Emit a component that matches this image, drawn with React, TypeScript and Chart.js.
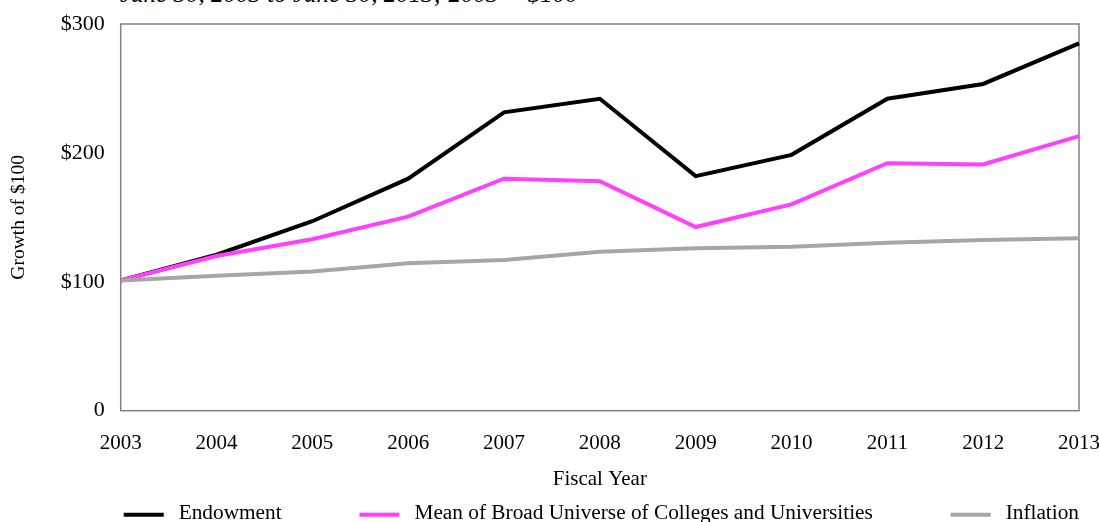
import React, { useEffect, useRef } from 'react';
import { Chart, registerables } from 'chart.js';

Chart.register(...registerables);

const years = ['2003', '2004', '2005', '2006', '2007', '2008', '2009', '2010', '2011', '2012', '2013'];
const endowment = [101, 121, 147, 180, 231.5, 242, 182, 198.5, 242, 253.5, 285];
const broadUniverse = [101, 120, 133, 150.5, 180, 178, 142.5, 160, 192, 191, 213];
const inflation = [101, 104.7, 108, 114.4, 117, 123.4, 126, 127.2, 130.3, 132.4, 133.7];
const seriesLabels = ['Endowment', 'Mean of Broad Universe of Colleges and Universities', 'Inflation'];
const seriesColors = ['#000000', '#ff40ff', '#a6a6a6'];
const titleText = 'June 30, 2003 to June 30, 2013; 2003 = $100';
const yAxisTitle = 'Growth of $100';
const xAxisTitle = 'Fiscal Year';

const FONT = "'Liberation Serif', 'Times New Roman', serif";

const framePlugin = {
  id: 'frame',
  beforeDatasetsDraw(chart: any) {
    const { ctx, chartArea: a } = chart;
    ctx.save();
    ctx.strokeStyle = '#808080';
    ctx.lineWidth = 1.5;
    ctx.strokeRect(a.left, a.top, a.right - a.left, a.bottom - a.top);
    ctx.restore();
  },
};

const spreadLegendPlugin = {
  id: 'spreadLegend',
  afterDraw(chart: any) {
    const { ctx, chartArea: a } = chart;
    const ds = chart.data.datasets;
    ctx.save();
    ctx.font = `21.3px ${FONT}`;
    const sw = 40;
    const gap = 15;
    const widths = ds.map((d: any) => sw + gap + ctx.measureText(d.label).width);
    const total = widths.reduce((s: number, w: number) => s + w, 0);
    const startX = a.left + 3;
    const endX = a.right;
    const spacing = (endX - startX - total) / (ds.length - 1);
    const y = a.bottom + 104;
    let x = startX;
    ds.forEach((d: any, i: number) => {
      ctx.strokeStyle = d.borderColor;
      ctx.lineWidth = 4;
      ctx.beginPath();
      ctx.moveTo(x, y);
      ctx.lineTo(x + sw, y);
      ctx.stroke();
      ctx.fillStyle = '#000';
      ctx.textBaseline = 'middle';
      ctx.textAlign = 'left';
      ctx.fillText(d.label, x + sw + gap, y - 1);
      x += widths[i] + spacing;
    });
    ctx.restore();
  },
};

export default function App() {
  const canvasRef = useRef<HTMLCanvasElement | null>(null);

  useEffect(() => {
    if (!canvasRef.current) return;
    Chart.defaults.font.family = FONT;
    Chart.defaults.font.size = 20;
    Chart.defaults.color = '#000';

    const mk = (label: string, data: number[], color: string, order: number) => ({
      label,
      data,
      borderColor: color,
      backgroundColor: color,
      borderWidth: 4,
      pointRadius: 0,
      pointHoverRadius: 0,
      tension: 0,
      fill: false,
      order,
    });

    const chart = new Chart(canvasRef.current, {
      type: 'line',
      data: {
        labels: years,
        datasets: [
          mk(seriesLabels[0], endowment, seriesColors[0], 3),
          mk(seriesLabels[1], broadUniverse, seriesColors[1], 2),
          mk(seriesLabels[2], inflation, seriesColors[2], 1),
        ],
      },
      options: {
        animation: false,
        responsive: true,
        maintainAspectRatio: false,
        layout: { padding: { left: 7, right: 20, top: 24, bottom: 30 } },
        plugins: {
          legend: { display: false },
          tooltip: { enabled: false },
          title: { display: false },
        },
        scales: {
          x: {
            type: 'category',
            offset: false,
            grid: { display: false, drawTicks: false },
            border: { display: false },
            ticks: { maxRotation: 0, autoSkip: false, padding: 20, font: { size: 21 } },
            title: { display: true, text: xAxisTitle, padding: 0, font: { size: 21 } },
            afterFit: (s: any) => {
              s.height = 81.3;
              s.paddingLeft = 0;
              s.paddingRight = 0;
            },
          },
          y: {
            min: 0,
            max: 300,
            grid: { display: false, drawTicks: false },
            border: { display: false },
            ticks: {
              stepSize: 100,
              padding: 16,
              font: { size: 22 },
              callback: (v: any) => (Number(v) === 0 ? '0' : '$' + v),
            },
            title: { display: true, text: yAxisTitle, padding: 0, font: { size: 19.5 } },
            afterFit: (s: any) => {
              s.width = 113.7;
              s.paddingTop = 0;
              s.paddingBottom = 0;
            },
          },
        },
      },
      plugins: [framePlugin, spreadLegendPlugin],
    });
    return () => chart.destroy();
  }, []);

  return (
    <div style={{ position: 'fixed', left: 0, top: 0, width: 1099, height: 522, overflow: 'hidden', background: '#fff' }}>
      <div
        style={{
          position: 'absolute',
          left: 120,
          top: -19,
          fontFamily: FONT,
          fontStyle: 'italic',
          fontSize: 25,
          lineHeight: 1,
          whiteSpace: 'nowrap',
          color: '#000',
        }}
      >
        {titleText}
      </div>
      <div style={{ position: 'absolute', left: 0, top: 0, width: 1099, height: 522 }}>
        <canvas ref={canvasRef} />
      </div>
    </div>
  );
}
